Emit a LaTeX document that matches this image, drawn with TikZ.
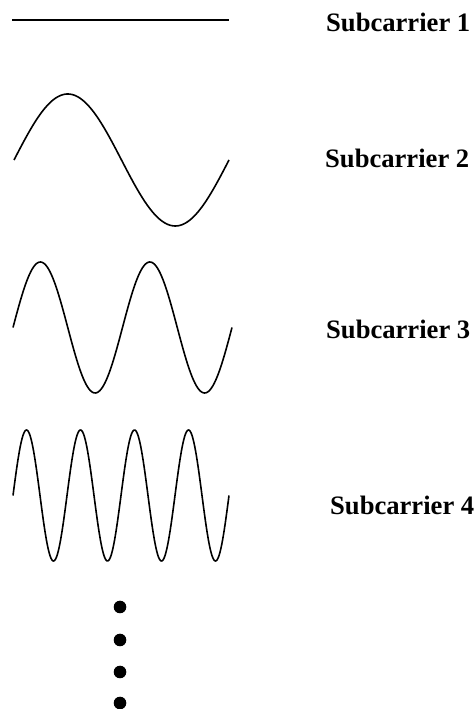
\documentclass[tikz,border=0pt]{standalone}
\usepackage{fontspec}
\setmainfont{Liberation Serif}
\usepackage{tikz}
\usetikzlibrary{positioning}

\begin{document}
\begin{tikzpicture}[
  x=1pt, y=1pt,
  wave/.style={line width=1.6pt, black},
  sublabel/.style={anchor=base west, inner sep=0pt, font=\fontsize{26.6}{30}\selectfont\bfseries},
  dot/.style={fill=black},
]
\useasboundingbox (0,0) rectangle (475,709);

% Subcarrier 1 (DC)
\draw[wave] (12,689) -- (229,689);
\node[sublabel] (sub1) at (326,677) {Subcarrier 1};

% Subcarrier 2
\draw[wave] plot[domain=14:229, samples=120, smooth] (\x, {549 + 66*sin((360/215)*(\x-14))});
\node[sublabel] (sub2) at (325,541) {Subcarrier 2};

% Subcarrier 3
\draw[wave] plot[domain=13:232, samples=160, smooth] (\x, {381.5 + 65.5*sin((720/219)*(\x-13))});
\node[sublabel] (sub3) at (326,370) {Subcarrier 3};

% Subcarrier 4
\draw[wave] plot[domain=13:229, samples=240, smooth] (\x, {213.5 + 65.5*sin((1440/216)*(\x-13))});
\node[sublabel] (sub4) at (330,194) {Subcarrier 4};

% vertical dots
\foreach \y in {102,69,37,6}
  \fill[dot] (120,\y) circle (6.3);

\end{tikzpicture}
\end{document}
